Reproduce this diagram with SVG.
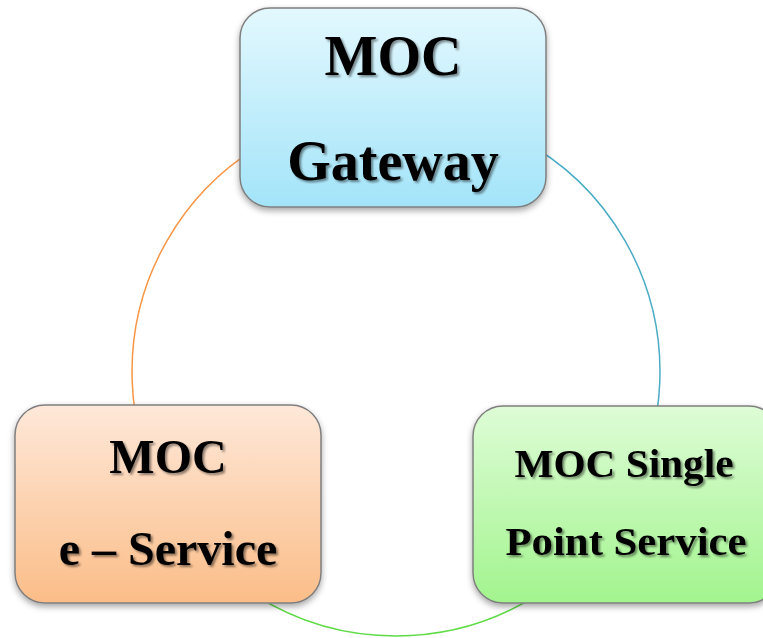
<svg xmlns="http://www.w3.org/2000/svg" width="763" height="638" viewBox="0 0 763 638">
<defs>
<linearGradient id="gBlue" x1="0" y1="0" x2="0" y2="1"><stop offset="0" stop-color="#E3F8FE"/><stop offset="1" stop-color="#A3E4F9"/></linearGradient>
<linearGradient id="gOrange" x1="0" y1="0" x2="0" y2="1"><stop offset="0" stop-color="#FEE8D9"/><stop offset="1" stop-color="#FBBD88"/></linearGradient>
<linearGradient id="gGreen" x1="0" y1="0" x2="0" y2="1"><stop offset="0" stop-color="#DEFCD6"/><stop offset="1" stop-color="#A2F48E"/></linearGradient>
<filter id="boxShadow" x="-10%" y="-10%" width="120%" height="125%"><feDropShadow dx="0" dy="3" stdDeviation="3" flood-color="#000" flood-opacity="0.35"/></filter>
<filter id="textShadow" x="-10%" y="-20%" width="120%" height="140%"><feDropShadow dx="2" dy="2" stdDeviation="1.2" flood-color="#000" flood-opacity="0.45"/></filter>
</defs>
<style>
.box{stroke:#7f7f7f;stroke-width:1.5;filter:url(#boxShadow)}
.lbl{font-family:"Liberation Serif","Times New Roman",serif;font-weight:bold;fill:#000;text-anchor:middle;filter:url(#textShadow)}
.arc{fill:none;stroke-width:1.5}
</style>
<rect width="763" height="638" fill="#fff"/>
<g id="connectors">
<path class="arc" stroke="#F79646" d="M396,108 A264,264 0 0 0 167.4,504"/>
<path class="arc" stroke="#5EDB45" d="M167.4,504 A264,264 0 0 0 624.6,504"/>
<path class="arc" stroke="#4BACC6" d="M624.6,504 A264,264 0 0 0 396,108"/>
</g>
<g id="gateway">
<rect class="box" x="240" y="8" width="306" height="199" rx="30" fill="url(#gBlue)"/>
<text class="lbl" x="393" y="75" font-size="56">MOC</text>
<text class="lbl" x="393" y="180" font-size="56">Gateway</text>
</g>
<g id="eservice">
<rect class="box" x="15" y="405" width="306" height="198" rx="30" fill="url(#gOrange)"/>
<text class="lbl" x="168" y="473" font-size="48">MOC</text>
<text class="lbl" x="168" y="565" font-size="48">e – Service</text>
</g>
<g id="singlepoint">
<rect class="box" x="473" y="406" width="306" height="197" rx="30" fill="url(#gGreen)"/>
<text class="lbl" x="624" y="477" font-size="40" textLength="219" lengthAdjust="spacingAndGlyphs">MOC Single</text>
<text class="lbl" x="626" y="555" font-size="40" textLength="241" lengthAdjust="spacingAndGlyphs">Point Service</text>
</g>
</svg>
